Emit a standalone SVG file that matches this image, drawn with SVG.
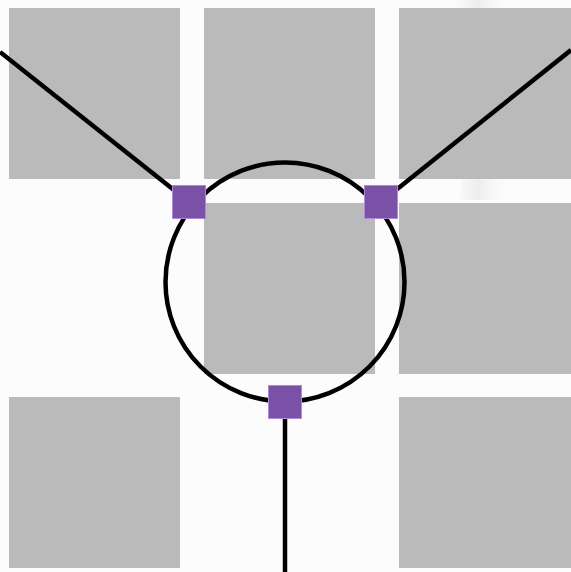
<svg xmlns="http://www.w3.org/2000/svg" width="571" height="572" viewBox="0 0 571 572">
<style>
.tile{fill:#bababa}
.wire{fill:none;stroke:#000;stroke-width:4.5}
.port{fill:#7b51a8;stroke:#b08ad6;stroke-width:1}
</style>
<defs>
<linearGradient id="sheen" x1="0" y1="0" x2="1" y2="0">
<stop offset="0" stop-color="#ffffff" stop-opacity="0"/>
<stop offset="0.5" stop-color="#e6e6e6" stop-opacity="0.7"/>
<stop offset="1" stop-color="#ffffff" stop-opacity="0"/>
</linearGradient>
</defs>
<rect width="571" height="572" fill="#fcfcfc"/>
<path d="M440 0 L510 0 Q520 100 515 200 L460 200 Q470 100 440 0 Z" fill="url(#sheen)"/>
<g id="tiles">
<rect class="tile" x="9" y="8" width="171" height="171"/>
<rect class="tile" x="204" y="8" width="171" height="171"/>
<rect class="tile" x="399" y="8" width="172" height="171"/>
<rect class="tile" x="204" y="203" width="171" height="171"/>
<rect class="tile" x="399" y="203" width="172" height="171"/>
<rect class="tile" x="9" y="397" width="171" height="171"/>
<rect class="tile" x="399" y="397" width="172" height="171"/>
</g>
<g id="connectors">
<line class="wire" x1="0" y1="52" x2="189" y2="202"/>
<line class="wire" x1="571" y1="50" x2="381" y2="202"/>
<line class="wire" x1="285" y1="402" x2="285" y2="572"/>
</g>
<g id="ring"><circle class="wire" cx="285" cy="282" r="119.5"/></g>
<g id="port-left"><rect class="port" x="172.5" y="185.5" width="33" height="33"/></g>
<g id="port-right"><rect class="port" x="364.5" y="185.5" width="33" height="33"/></g>
<g id="port-bottom"><rect class="port" x="268.5" y="385.5" width="33" height="33"/></g>
</svg>
